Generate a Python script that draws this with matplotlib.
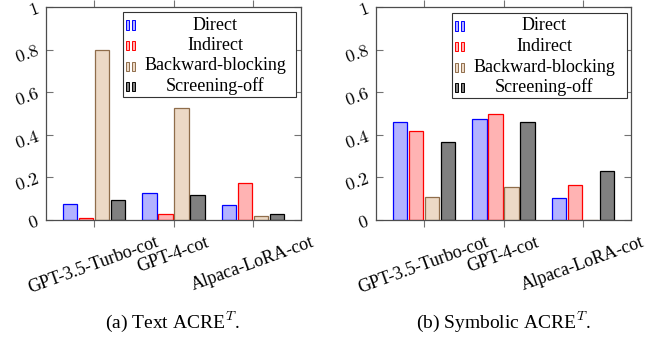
import numpy as np
import matplotlib.pyplot as plt
from matplotlib.patches import Rectangle

plt.rcParams['font.family'] = ['Liberation Serif', 'DejaVu Serif']
plt.rcParams['mathtext.fontset'] = 'cm'

# data
models = ['GPT-3.5-Turbo-cot', 'GPT-4-cot', 'Alpaca-LoRA-cot']
series = ['Direct', 'Indirect', 'Backward-blocking', 'Screening-off']

text_direct = [0.075, 0.125, 0.069]
text_indirect = [0.008, 0.027, 0.172]
text_backward = [0.796, 0.528, 0.020]
text_screening = [0.094, 0.119, 0.030]

sym_direct = [0.459, 0.475, 0.103]
sym_indirect = [0.420, 0.498, 0.165]
sym_backward = [0.107, 0.154, 0.0]
sym_screening = [0.365, 0.461, 0.230]

yticks = [0, 0.2, 0.4, 0.6, 0.8, 1]
ytick_labels = ['$0$', '$0.2$', '$0.4$', '$0.6$', '$0.8$', '$1$']
captions = ['(a) Text ACRE$^{T}$.', '(b) Symbolic ACRE$^{T}$.']

fills = [(0.7, 0.7, 1.0), (1.0, 0.7, 0.7), (0.925, 0.85, 0.775), (0.5, 0.5, 0.5)]
edges = ['blue', 'red', '#8f6d4b', 'black']

W, H = 670, 346
fig = plt.figure(figsize=(W / 100, H / 100), dpi=100)

# axes boxes in pixels: left, bottom(from top), width, height
ax_px = [(46, 220, 255, 213), (376, 220, 255, 213)]
leg_px = [(123, 12, 296, 97), (452, 13, 627, 98)]
cap_x = [172, 503]


def draw_legend(ax, box, axbox):
    x0, y0, x1, y1 = box
    axl, axb, aw, ah = axbox
    tx = lambda px: (px - axl) / aw
    ty = lambda py: (axb - py) / ah
    ax.add_patch(Rectangle((tx(x0), ty(y1)), tx(x1) - tx(x0), ty(y0) - ty(y1),
                           transform=ax.transAxes, facecolor='white',
                           edgecolor='0.2', lw=0.8, zorder=5, clip_on=False))
    for i, name in enumerate(series):
        yc = y0 + 13 + 20.5 * i
        for bx in (x0 + 3, x0 + 9):
            ax.add_patch(Rectangle((tx(bx), ty(yc + 4.5)), 3 / aw, 9 / ah,
                                   transform=ax.transAxes, facecolor=fills[i],
                                   edgecolor=edges[i], lw=0.7, zorder=6))
        ax.text(tx(x0 + 92), ty(yc), name, transform=ax.transAxes,
                ha='center', va='center', fontsize=13, zorder=7)


panels = [
    [text_direct, text_indirect, text_backward, text_screening],
    [sym_direct, sym_indirect, sym_backward, sym_screening],
]

x = np.arange(len(models))
offsets = [-0.3, -0.1, 0.1, 0.3]

for k, vals in enumerate(panels):
    l, b, w, h = ax_px[k]
    ax = fig.add_axes([l / W, (H - b) / H, w / W, h / H])
    for i, v in enumerate(vals):
        ax.bar(x + offsets[i], v, width=0.18, color=fills[i], edgecolor=edges[i],
               linewidth=0.9, zorder=2)
    ax.set_xlim(-0.6, 2.6)
    ax.set_ylim(0, 1)
    ax.set_xticks(x)
    ax.set_xticklabels(models, rotation=20, ha='center', va='top', fontsize=13)
    ax.set_yticks(yticks)
    ax.set_yticklabels(ytick_labels, rotation=20, fontsize=13)
    ax.tick_params(axis='x', direction='out', length=5, width=0.8, color='0.45',
                   top=True, pad=5)
    ax.tick_params(axis='y', direction='in', length=5, width=0.8, color='0.45',
                   right=True, pad=3)
    for s in ax.spines.values():
        s.set_color('0.3')
        s.set_linewidth(0.9)
    draw_legend(ax, leg_px[k], ax_px[k])
    fig.text(cap_x[k] / W, 1 - 322 / H, captions[k], ha='center', va='center',
             fontsize=14)

fig.savefig('out.png', dpi=100)
